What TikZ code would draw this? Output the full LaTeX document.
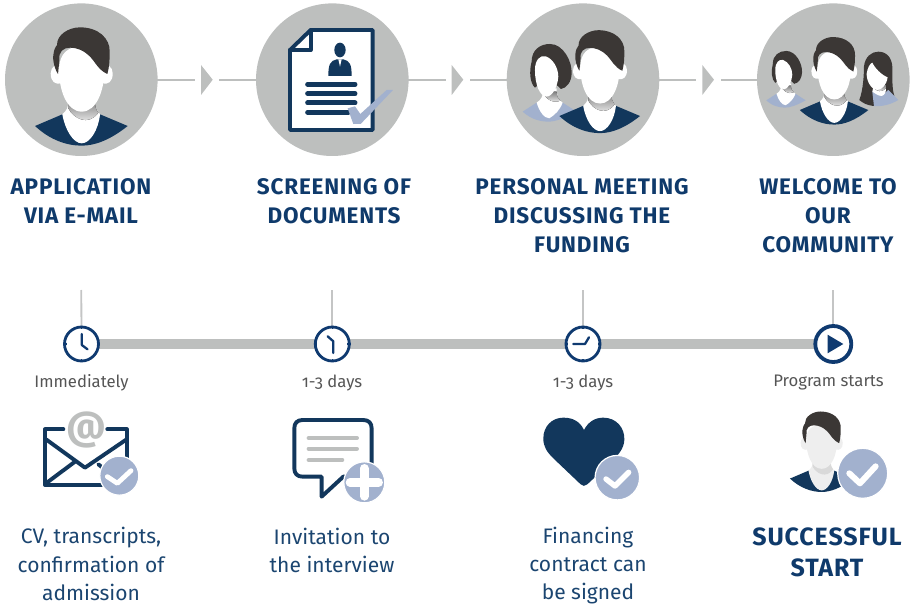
\documentclass[tikz,border=0pt]{standalone}
\usepackage{fontspec}
\setmainfont[Numbers=OldStyle]{Fira Sans}
\definecolor{navy}{HTML}{12375C}
\definecolor{tnavy}{HTML}{0F3A6B}
\definecolor{cnavy}{HTML}{0F3A70}
\definecolor{bnavy}{HTML}{1B4570}
\definecolor{bgray}{HTML}{BDBFBE}
\definecolor{lblue}{HTML}{A2B1CE}
\definecolor{hair}{HTML}{3B3735}
\definecolor{shade}{HTML}{E8E8E8}
\definecolor{tgray}{HTML}{555555}
\definecolor{pface}{HTML}{EEEEEE}
\definecolor{pshade}{HTML}{D9D9D9}
\tikzset{
  disc/.style={circle,fill=bgray,minimum size=152.6pt,inner sep=0pt},
  link/.style={draw=bgray,line width=2pt},
  stemline/.style={draw=bgray!90!white,line width=1.8pt},
  barline/.style={draw=bgray,line width=10.5pt},
  clockface/.style={circle,draw=cnavy,line width=2.8pt,fill=white,minimum size=34pt,inner sep=0pt},
  playring/.style={circle,draw=cnavy,line width=3.8pt,fill=white,minimum size=36pt,inner sep=0pt},
  handline/.style={draw=cnavy,line width=2.3pt,line cap=round,line join=round},
  tickline/.style={draw=cnavy,line width=1.4pt},
  titletext/.style={font=\fontsize{22.5}{29}\selectfont\bfseries\addfontfeature{LetterSpace=3.5},text=tnavy,align=center,inner sep=0pt},
  bigtext/.style={font=\fontsize{25}{31}\selectfont\bfseries\addfontfeature{LetterSpace=3.5},text=tnavy,align=center,inner sep=0pt},
  whentext/.style={font=\fontsize{16.7}{18}\selectfont,text=tgray,inner sep=0pt},
  notetext/.style={font=\fontsize{21}{28.4}\selectfont,text=bnavy,align=center,inner sep=0pt},
  badge/.style={circle,fill=lblue,draw=white,line width=1.2pt,inner sep=0pt},
  okmark/.style={draw=white,line cap=round,line join=round},
  iconline/.style={draw=navy,line width=3.9pt,line join=round,line cap=round},
  txtline/.style={draw=bgray,line width=4pt,line cap=round},
  docline/.style={draw=navy,line width=5pt,line cap=round},
}
% person(cx,cy,scale,shirt,face,shadow)
\newcommand{\manfig}[6]{%
\begin{scope}[shift={(#1,#2)},x=#3*0.3333pt,y=-#3*0.3333pt]
 \fill[#4] (-140,138) -- (-58,103) -- (55,103) -- (138,138) .. controls (85,180) and (40,197) .. (0,197) .. controls (-45,197) and (-95,180) .. (-140,138) -- cycle;
 \fill[#5] (-58,103) .. controls (-50,150) and (-25,190) .. (0,190) .. controls (25,190) and (50,150) .. (55,103) .. controls (45,90) and (40,85) .. (40,60) -- (-40,60) .. controls (-40,85) and (-45,90) .. (-58,103) -- cycle;
 \fill[#6] (-40,60) -- (-40,85) .. controls (-25,115) and (20,140) .. (50,98) .. controls (42,88) and (40,80) .. (40,60) -- cycle;
 \fill[#5] (-93,-20) .. controls (-93,-40) and (-75,-50) .. (-68,-40) -- (-60,10) .. controls (-80,15) and (-93,5) .. (-93,-20) -- cycle;
 \fill[#5] (93,-20) .. controls (93,-40) and (75,-50) .. (68,-40) -- (60,10) .. controls (80,15) and (93,5) .. (93,-20) -- cycle;
 \fill[#5] (-68,-30) .. controls (-68,-80) and (-40,-100) .. (-5,-100) .. controls (35,-100) and (68,-70) .. (68,-30) .. controls (68,30) and (45,95) .. (0,95) .. controls (-45,95) and (-68,30) .. (-68,-30) -- cycle;
 \fill[hair] (-71,-18) .. controls (-80,-30) and (-88,-60) .. (-85,-75) .. controls (-84,-90) and (-78,-100) .. (-74,-105) .. controls (-75,-135) and (-40,-158) .. (-5,-158) .. controls (50,-158) and (85,-125) .. (84,-85) .. controls (84,-60) and (83,-40) .. (77,-18) .. controls (50,-30) and (40,-55) .. (25,-70) .. controls (5,-90) and (-15,-97) .. (-35,-97) .. controls (-55,-97) and (-70,-85) .. (-67,-60) -- cycle;
\end{scope}}
\newcommand{\womanfig}[3]{%
\begin{scope}[shift={(#1,#2)},x=#3*0.3333pt,y=-#3*0.3333pt]
 \fill[lblue] (-77,100) -- (-35,73) -- (43,73) -- (85,100) .. controls (45,122) and (20,130) .. (0,130) .. controls (-20,130) and (-50,125) .. (-77,100) -- cycle;
 \fill[white] (-35,73) .. controls (-27,100) and (-12,120) .. (3,120) .. controls (20,110) and (35,95) .. (43,73) .. controls (30,65) and (25,55) .. (25,30) -- (-15,30) .. controls (-15,55) and (-22,65) .. (-35,73) -- cycle;
 \fill[shade] (-15,40) .. controls (-12,60) and (15,78) .. (36,67) .. controls (30,62) and (25,55) .. (25,40) -- cycle;
 \fill[hair] (-40,28) .. controls (-55,15) and (-58,-20) .. (-50,-50) .. controls (-50,-85) and (-25,-103) .. (5,-103) .. controls (45,-103) and (72,-50) .. (70,-15) .. controls (70,10) and (55,30) .. (38,32) -- (25,20) -- (-30,20) -- cycle;
 \fill[white] (-40,-25) .. controls (-40,-55) and (-25,-70) .. (-8,-66) .. controls (15,-58) and (30,-30) .. (30,-5) .. controls (28,25) and (12,55) .. (-5,55) .. controls (-25,55) and (-40,20) .. (-40,-25) -- cycle;
\end{scope}}
\begin{document}
\begin{tikzpicture}[x=1pt,y=-1pt]
\useasboundingbox (0,0) rectangle (911,607);
% top discs
\coordinate (a1a) at (195,79.7); \coordinate (a1b) at (219,79.7);
\coordinate (a2a) at (445.5,79.7); \coordinate (a2b) at (470,79.7);
\coordinate (a3a) at (696,79.7); \coordinate (a3b) at (721,79.7);
\coordinate (p1) at (81.3,79.7); \coordinate (p2) at (332.3,79.7);
\coordinate (p3) at (583,79.7); \coordinate (p4) at (833.3,79.7);
\draw[link] (p1) -- (a1a); \draw[link] (a1b) -- (p2);
\draw[link] (p2) -- (a2a); \draw[link] (a2b) -- (p3);
\draw[link] (p3) -- (a3a); \draw[link] (a3b) -- (p4);
\fill[bgray] (201,65) -- (212.7,79.7) -- (201,95) -- cycle;
\fill[bgray] (451.7,65) -- (463.3,79.7) -- (451.7,95) -- cycle;
\fill[bgray] (702.3,65) -- (714,79.7) -- (702.3,95) -- cycle;
\node[disc] (c1) at (p1) {};
\node[disc] (c2) at (p2) {};
\node[disc] (c3) at (p3) {};
\node[disc] (c4) at (p4) {};
% persons
\manfig{81.7}{80}{1}{navy}{white}{shade}
% document
\begin{scope}[shift={(240,0)},x=0.3333pt,y=-0.3333pt]
 \filldraw[fill=white,iconline] (150,150) -- (212,90) -- (398,90) -- (398,390) -- (150,390) -- cycle;
 \draw[iconline] (150,150) -- (212,150) -- (212,90);
 \fill[navy] (265,228) .. controls (265,195) and (270,182) .. (290,178) -- (310,178) .. controls (330,182) and (335,195) .. (335,228) -- cycle;
 \fill[navy] (300,150) ellipse[x radius=17,y radius=22];
 \fill[white] (295,178) -- (300,200) -- (305,178) -- cycle;
 \draw[docline] (203,253) -- (345,253);
 \draw[docline] (203,281) -- (345,281);
 \draw[docline] (203,309) -- (345,309);
 \draw[docline] (203,337) -- (325,337);
 \fill[lblue] (323,325) -- (345,319) -- (361,342) -- (440,270) -- (459,270) -- (362,372) -- (340,372) -- cycle;
\end{scope}
\womanfig{548.3}{78.3}{1}
\manfig{600}{76}{0.87}{navy}{white}{shade}
\womanfig{785}{76}{0.73}
% long-haired woman
\begin{scope}[shift={(490,0)},x=0.3333pt,y=-0.3333pt]
 \fill[hair] (1108,300) .. controls (1120,270) and (1122,220) .. (1122,200) .. controls (1125,170) and (1145,155) .. (1165,155) .. controls (1195,155) and (1210,180) .. (1207,215) .. controls (1207,240) and (1207,270) .. (1213,287) -- (1150,318) .. controls (1130,315) and (1120,310) .. (1108,300) -- cycle;
 \fill[lblue] (1147,275) -- (1175,287) -- (1195,270) -- (1225,300) .. controls (1200,315) and (1175,320) .. (1152,318) -- cycle;
 \fill[white] (1147,275) .. controls (1155,280) and (1165,288) .. (1175,288) .. controls (1185,285) and (1190,275) .. (1187,262) -- (1150,262) -- cycle;
 \fill[shade] (1150,262) .. controls (1160,275) and (1175,278) .. (1188,265) -- (1188,255) -- (1150,255) -- cycle;
 \fill[white] (1130,222) .. controls (1132,205) and (1140,190) .. (1147,188) .. controls (1155,205) and (1175,225) .. (1193,232) .. controls (1190,255) and (1175,270) .. (1162,270) .. controls (1145,270) and (1130,245) .. (1130,222) -- cycle;
\end{scope}
\manfig{834.3}{76}{0.74}{navy}{white}{shade}
% titles
\node[titletext] (t1) at (81,200.7) {APPLICATION\\VIA E-MAIL};
\node[titletext] (t2) at (334,201.5) {SCREENING OF\\DOCUMENTS};
\node[titletext] (t3) at (582,215.5) {PERSONAL MEETING\\DISCUSSING THE\\FUNDING};
\node[titletext] (t4) at (828,215.5) {WELCOME TO\\OUR\\COMMUNITY};
% timeline
\coordinate (v1) at (81.3,290); \coordinate (v2) at (332.3,290);
\coordinate (v3) at (583,290); \coordinate (v4) at (833.3,290);
\coordinate (q1) at (81.5,344); \coordinate (q2) at (332.3,344);
\coordinate (q3) at (583,344); \coordinate (q4) at (833.3,344);
\draw[stemline] (v1) -- (q1);
\draw[stemline] (v2) -- (q2);
\draw[stemline] (v3) -- (q3);
\draw[stemline] (v4) -- (q4);
\draw[barline] (q1) -- (q4);
\node[clockface] (k1) at (q1) {};
\node[clockface] (k2) at (q2) {};
\node[clockface] (k3) at (q3) {};
\node[playring] (k4) at (q4) {};
\foreach \k in {k1,k2,k3}{
 \draw[tickline] (\k.north) -- ++(0,3.4);
 \draw[tickline] (\k.south) -- ++(0,-3.4);
 \draw[tickline] (\k.east) -- ++(-3.4,0);
 \draw[tickline] (\k.west) -- ++(3.4,0);
}
\draw[handline] (k1.center) ++(0.3,-10) -- ++(0,11) -- ++(5.7,4.3);
\draw[handline] (k2.center) ++(-4.7,-7.7) -- ++(5.7,5) -- ++(0,11.7);
\draw[handline] (k3.center) ++(-9.7,0) -- ++(11.7,0) -- ++(4,-6.7);
\fill[cnavy] (k4.center) ++(-5.7,-9.3) -- ++(15.7,9.3) -- ++(-15.7,9.3) -- cycle;
% time labels
\node[whentext] (w1) at (81.5,383) {Immediately};
\node[whentext] (w2) at (332,383) {1-3 days};
\node[whentext] (w3) at (583,383) {1-3 days};
\node[whentext] (w4) at (828.5,383) {Program starts};
% envelope
\begin{scope}[shift={(30,405)},x=0.3333pt,y=-0.3333pt]
 \draw[iconline] (100,73) -- (45,73) -- (45,240) -- (290,240) -- (290,73) -- (232,73);
 \draw[iconline] (48,103) -- (165,188) -- (290,103);
 \draw[iconline] (48,235) -- (135,170);
 \draw[iconline] (205,178) -- (240,205);
 \node[font=\fontsize{39}{39}\selectfont\bfseries,text=bgray,inner sep=0pt] (at) at (168,74) {@};
 \node[badge,minimum size=39pt] (b1) at (268,212) {};
 \draw[okmark,line width=4.8pt] (232,215) -- (262,235) -- (303,197);
\end{scope}
% speech bubble
\begin{scope}[shift={(30,405)},x=0.3333pt,y=-0.3333pt]
 \draw[iconline] (818,45) -- (1000,45) .. controls (1016,45) and (1025,54) .. (1025,70) -- (1025,190) .. controls (1025,206) and (1016,215) .. (1000,215) -- (940,215) -- (875,275) -- (875,215) -- (818,215) .. controls (802,215) and (793,206) .. (793,190) -- (793,70) .. controls (793,54) and (802,45) .. (818,45) -- cycle;
 \draw[txtline] (836,99) -- (981,99);
 \draw[txtline] (836,131) -- (981,131);
 \draw[txtline] (836,165) -- (937,165);
 \node[badge,minimum size=41pt] (b2) at (1003,232) {};
 \draw[okmark,line width=8.6pt] (960,232) -- (1046,232);
 \draw[okmark,line width=8.6pt] (1003,190) -- (1003,274);
\end{scope}
% heart
\begin{scope}[shift={(530,405)},x=0.3333pt,y=-0.3333pt]
 \fill[navy] (162,75) .. controls (175,50) and (195,38) .. (220,38) .. controls (260,38) and (285,70) .. (283,105) .. controls (282,130) and (265,150) .. (245,170) -- (172,238) .. controls (165,244) and (158,244) .. (152,238) -- (70,160) .. controls (50,140) and (40,125) .. (40,100) .. controls (40,65) and (65,38) .. (100,38) .. controls (130,38) and (150,50) .. (162,75) -- cycle;
 \node[badge,minimum size=44.5pt] (b3) at (262,218) {};
 \draw[okmark,line width=5.4pt] (228,222) -- (255,243) -- (296,202);
\end{scope}
% start person
\manfig{821.7}{447.3}{0.68}{navy}{pface}{pshade}
\node[badge,minimum size=50pt] (b4) at (862.7,473.3) {};
\begin{scope}[shift={(530,405)},x=0.3333pt,y=-0.3333pt]
 \draw[okmark,line width=6pt] (958,205) -- (990,235) -- (1037,184);
\end{scope}
% notes
\node[notetext] (n1) at (91,564) {CV, transcripts,\\confirmation of\\admission};
\node[notetext] (n2) at (332,550.5) {Invitation to\\the interview};
\node[notetext] (n3) at (588,565.5) {Financing\\contract can\\be signed};
\node[bigtext] (n4) at (827,552.5) {SUCCESSFUL\\START};
\end{tikzpicture}
\end{document}
